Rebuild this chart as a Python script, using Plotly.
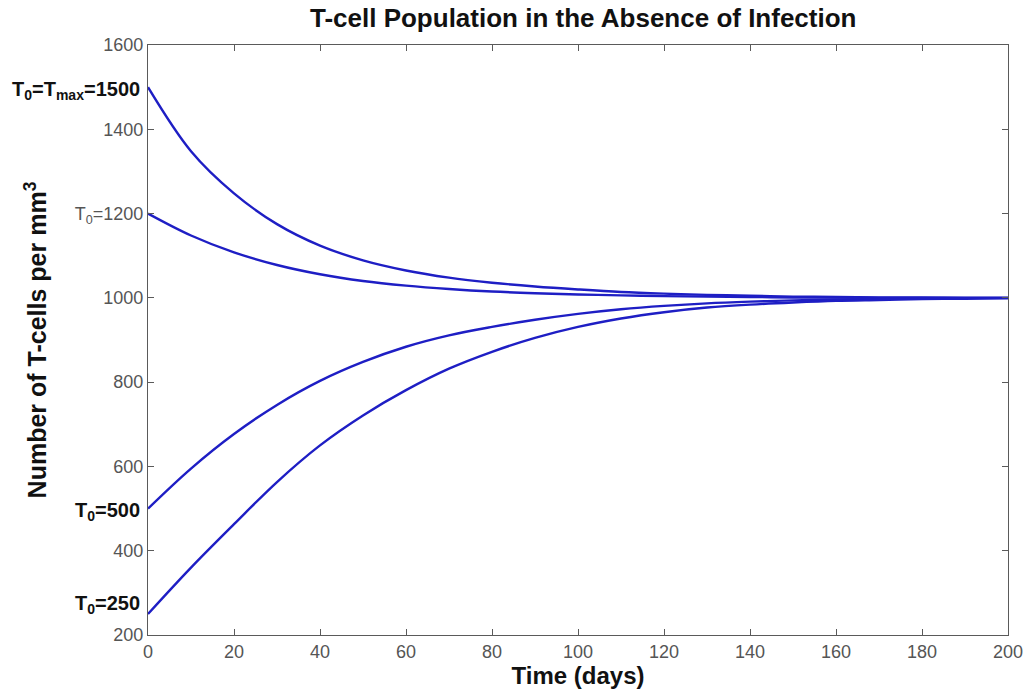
import plotly.graph_objects as go

# Simulated T-cell counts (cells per mm^3) sampled every 10 days
days = [0, 10, 20, 30, 40, 50, 60, 70, 80, 90, 100,
        110, 120, 130, 140, 150, 160, 170, 180, 190, 200]
t_1500 = [1500, 1348, 1248, 1175, 1124, 1089, 1065, 1048, 1036, 1027, 1020,
          1014, 1010, 1007, 1005, 1003, 1002, 1001, 1001, 1000, 1000]
t_1200 = [1200, 1148, 1108, 1078, 1056, 1040, 1029, 1021, 1015, 1011, 1008,
          1006, 1004, 1003, 1002, 1001, 1001, 1000, 1000, 1000, 1000]
t_500 = [500, 595, 677, 746, 803, 848, 884, 911, 931, 948, 962,
         973, 981, 987, 991, 994, 996, 998, 999, 1000, 1000]
t_250 = [250, 360, 463, 563, 650, 721, 781, 832, 872, 905, 931,
         951, 966, 977, 984, 989, 993, 995, 997, 998, 999]

series = [t_1500, t_1200, t_500, t_250]

# Initial-condition labels drawn left of the y axis
label_values = [1500, 500, 250]
label_texts = ["<b>T<sub>0</sub>=T<sub>max</sub>=1500</b>",
               "<b>T<sub>0</sub>=500</b>",
               "<b>T<sub>0</sub>=250</b>"]
label_yshift = [-3, -3, 9]

x_ticks = list(range(0, 201, 20))
y_ticks = list(range(200, 1601, 200))
y_ticktext = ["200", "400", "600", "800", "1000",
              "T<sub>0</sub>=1200", "1400", "1600"]

LINE = "#1e1ec4"
AXIS = "#5a5a5a"
FONT = "Liberation Sans, Arial, sans-serif"

fig = go.Figure()
for ys in series:
    fig.add_trace(go.Scatter(x=days, y=ys, mode="lines",
                             line=dict(color=LINE, width=2.4, shape="spline"),
                             showlegend=False, hoverinfo="skip"))

for v, txt, dy in zip(label_values, label_texts, label_yshift):
    fig.add_annotation(x=0, xref="paper", y=v, yref="y", text=txt,
                       showarrow=False, xanchor="right", yanchor="middle",
                       xshift=-6, yshift=dy,
                       font=dict(family=FONT, size=20, color="#111111"))

axis_common = dict(showline=True, linecolor=AXIS, linewidth=1.2, mirror="ticks",
                   ticks="inside", ticklen=6, tickcolor=AXIS, tickwidth=1.2,
                   showgrid=False, zeroline=False,
                   tickfont=dict(family=FONT, size=18, color="#555555"))

fig.update_xaxes(range=[0, 200], tickvals=x_ticks, **axis_common,
                 title=dict(text="<b>Time (days)</b>", standoff=2,
                            font=dict(family=FONT, size=24, color="#111111")))
fig.update_yaxes(range=[200, 1600], tickvals=y_ticks, ticktext=y_ticktext,
                 **axis_common,
                 title=dict(text="<b>Number of T-cells per mm<sup>3</sup></b>", standoff=20,
                            font=dict(family=FONT, size=25, color="#111111")))

fig.update_layout(
    width=1035, height=693,
    margin=dict(l=148, r=17, t=45, b=58),
    paper_bgcolor="white", plot_bgcolor="white",
    title=dict(text="<b>T-cell Population in the Absence of Infection</b>",
               x=0.5635, xanchor="center", y=0.974, yanchor="middle",
               font=dict(family=FONT, size=26, color="#111111")),
)

fig.write_html("out.html")
